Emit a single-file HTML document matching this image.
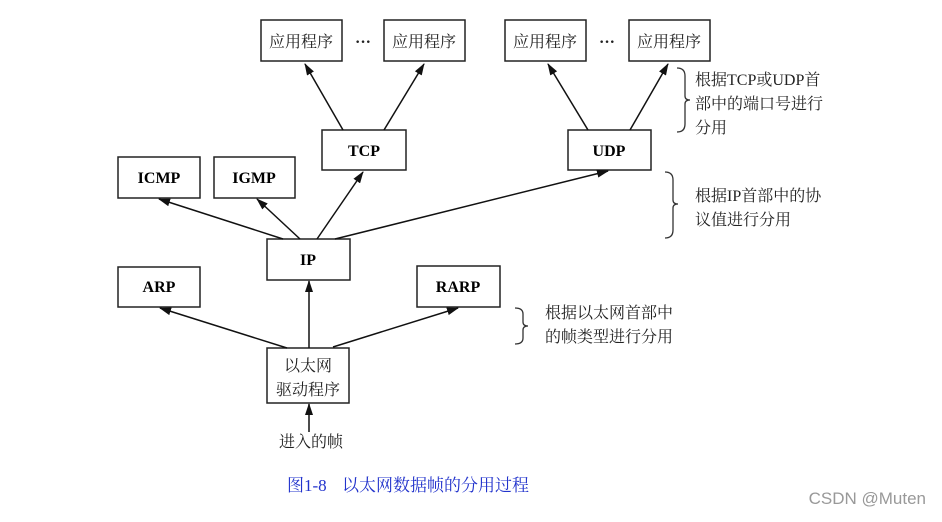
<!DOCTYPE html>
<html><head><meta charset="utf-8"><style>
html,body{margin:0;padding:0;background:#fff;}
svg text{font-family:"Liberation Serif","Noto Serif CJK SC",serif;}
</style></head><body>
<svg width="942" height="517" viewBox="0 0 942 517" xmlns="http://www.w3.org/2000/svg">
<defs><marker id="a" markerWidth="12" markerHeight="8" refX="11" refY="4" orient="auto" markerUnits="userSpaceOnUse"><path d="M0,0 L12,4 L0,8 Z" fill="#111"/></marker></defs>
<g fill="none" stroke="#222" stroke-width="1.5">
<rect x="261" y="20" width="81" height="41"/><rect x="384" y="20" width="81" height="41"/>
<rect x="505" y="20" width="81" height="41"/><rect x="629" y="20" width="81" height="41"/>
<rect x="322" y="130" width="84" height="40"/><rect x="568" y="130" width="83" height="40"/>
<rect x="118" y="157" width="82" height="41"/><rect x="214" y="157" width="81" height="41"/>
<rect x="267" y="239" width="83" height="41"/>
<rect x="118" y="267" width="82" height="40"/><rect x="417" y="266" width="83" height="41"/>
<rect x="267" y="348" width="82" height="55"/>
</g>
<g stroke="#111" stroke-width="1.5" marker-end="url(#a)">
<line x1="343" y1="130" x2="305" y2="64"/><line x1="384" y1="130" x2="424" y2="64"/>
<line x1="588" y1="130" x2="548" y2="64"/><line x1="630" y1="130" x2="668" y2="64"/>
<line x1="283" y1="239" x2="159" y2="199"/><line x1="300" y1="239" x2="257" y2="199"/>
<line x1="317" y1="239" x2="363" y2="172"/><line x1="335" y1="239" x2="608" y2="171"/>
<line x1="287" y1="348" x2="160" y2="308"/><line x1="309" y1="348" x2="309" y2="281"/>
<line x1="333" y1="347" x2="458" y2="308"/><line x1="309" y1="432" x2="309" y2="404"/>
</g>
<g fill="none" stroke="#333" stroke-width="1.3">
<path d="M677,68 q8,0 8,8 v20 q0,4 5,4 q-5,0 -5,4 v20 q0,8 -8,8"/>
<path d="M665,172 q8,0 8,8 v20 q0,4 5,4 q-5,0 -5,4 v22 q0,8 -8,8"/>
<path d="M515,308 q8,0 8,6 v8 q0,4 5,4 q-5,0 -5,4 v8 q0,6 -8,6"/>
</g>
<g font-size="16" fill="#222" text-anchor="middle">
<text x="301" y="47">应用程序</text><text x="424" y="47">应用程序</text>
<text x="545" y="47">应用程序</text><text x="669" y="47">应用程序</text>
<text x="363" y="47" font-weight="bold">···</text><text x="607" y="47" font-weight="bold">···</text>
<text x="308" y="371">以太网</text><text x="308" y="395">驱动程序</text>
<text x="311" y="447">进入的帧</text>
</g>
<g font-size="16" fill="#000" text-anchor="middle" font-weight="bold">
<text x="364" y="156">TCP</text><text x="609" y="156">UDP</text>
<text x="159" y="183">ICMP</text><text x="254" y="183">IGMP</text>
<text x="308" y="265">IP</text><text x="159" y="292">ARP</text><text x="458" y="292">RARP</text>
</g>
<g font-size="16" fill="#222">
<text x="695" y="85">根据TCP或UDP首</text><text x="695" y="109">部中的端口号进行</text><text x="695" y="133">分用</text>
<text x="695" y="201">根据IP首部中的协</text><text x="695" y="225">议值进行分用</text>
<text x="545" y="318">根据以太网首部中</text><text x="545" y="342">的帧类型进行分用</text>
</g>
<text x="287" y="491" font-size="17" fill="#2233cc">图1-8</text>
<text x="342" y="491" font-size="17" fill="#2233cc">以太网数据帧的分用过程</text>
<text x="926" y="504" font-size="17" fill="#999" text-anchor="end" style="font-family:'Liberation Sans','Noto Sans CJK SC',sans-serif">CSDN @Muten</text>
</svg>
</body></html>
